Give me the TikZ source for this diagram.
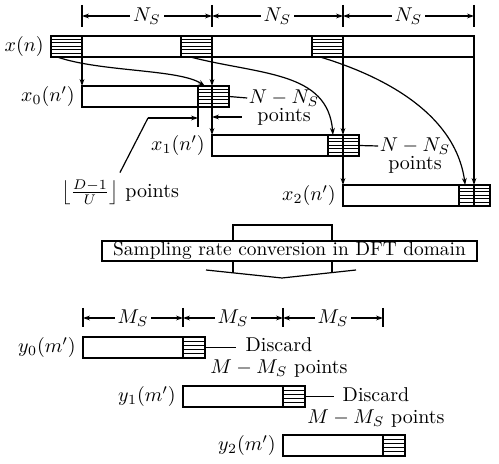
\documentclass[tikz,border=0pt]{standalone}
\usepackage{amsmath,amssymb}
\usetikzlibrary{positioning,arrows.meta,calc}

\begin{document}
\begin{tikzpicture}[
  x=0.5pt, y=-0.5pt, line width=0.6pt,
  seg/.style={draw, line width=0.9pt, minimum height=10.5pt, inner sep=0pt, outer sep=0pt},
  hatch/.style={draw, line width=0.7pt, minimum height=10.5pt, minimum width=15.5pt, inner sep=0pt, outer sep=0pt,
    path picture={\foreach \k [evaluate=\k as \f using \k/(#1+1)] in {1,...,#1}
      \draw[line width=0.5pt] ($(path picture bounding box.north west)!\f!(path picture bounding box.south west)$)
        -- ($(path picture bounding box.north east)!\f!(path picture bounding box.south east)$);}},
  hatch/.default=5,
  arr/.style={-{Stealth[length=3.5pt,width=2.4pt]}},
  dim/.style={{Stealth[length=3.5pt,width=2.4pt]}-{Stealth[length=3.5pt,width=2.4pt]}},
  lab/.style={fill=white, inner sep=1.5pt},
  note/.style={inner sep=0.5pt}
]
\useasboundingbox (0,0) rectangle (499,464);

\node[seg, minimum width=211.5pt, anchor=north west] (xn) at (51,36) {};
\node[hatch, anchor=north west] (hA) at (xn.north west) {};
\node[hatch, anchor=north east] (hB) at (212,36) {};
\node[hatch, anchor=north east] (hC) at (343,36) {};
\node[left=0pt of xn] (lxn) {$x(n)$};

\foreach \n in {hA,hB,hC,xn} \draw (\n.east |- 0,5) -- (\n.east |- 0,27);
\foreach \a/\b in {hA/hB,hB/hC,hC/xn} \draw[dim] (\a.east |- 0,16) -- node[lab]{$N_S$} (\b.east |- 0,16);

\node[seg, minimum width=73.5pt, anchor=north west] (x0) at (hA.east |- 0,86) {};
\node[hatch, anchor=north east] (h0) at (x0.north east) {};
\node[seg, minimum width=73.5pt, anchor=north west] (x1) at (hB.east |- 0,135) {};
\node[hatch, anchor=north east] (h1) at (x1.north east) {};
\node[seg, minimum width=73.5pt, anchor=north west] (x2) at (hC.east |- 0,185) {};
\node[hatch, anchor=north east] (h2) at (x2.north east) {};
\node[left=0pt of x0] (lx0) {$x_0(n')$};
\node[left=0pt of x1] (lx1) {$x_1(n')$};
\node[left=0pt of x2] (lx2) {$x_2(n')$};

\draw[arr] (hA.south east) -- (x0.north west);
\draw[arr] (hB.south east) -- (hB.east |- x0.north);
\draw[arr] (hB.east |- x0.north) -- (x1.north west);
\draw[arr] (hC.south east) -- (hC.east |- x1.north);
\draw[arr] (hC.east |- x1.north) -- (x2.north west);
\draw[arr] (xn.south east) -- (xn.east |- x2.north);
\draw (xn.east |- x2.north) -- (xn.east |- x2.south);

\draw[arr] ($(hA.south west)!0.2!(hA.south east)$) .. controls +(43,15) and +(-25,-17) .. ($(h0.north west)!0.22!(h0.north east)$);
\draw[arr] ($(hB.south west)!0.3!(hB.south east)$) .. controls +(70,18) and +(-5,-64) .. ($(h1.north west)!0.16!(h1.north east)$);
\draw[arr] ($(hC.south west)!0.26!(hC.south east)$) .. controls +(60,18) and +(-10,-73) .. ($(h2.north west)!0.2!(h2.north east)$);

\node[note] (n0) at (284,98) {$N-N_S$};
\node[note] (p0) at (284,117) {points};
\draw (h0.east) -- (n0.west);
\draw[arr] ([xshift=-7pt]p0.west) -- (p0.west -| hB.east);
\node[note] (n1) at (415,146) {$N-N_S$};
\node[note] (p1) at (415,165) {points};
\draw (h1.east) -- (n1.west);

\coordinate (kink) at (148,118);
\node (dlbl) at (120,192) {$\left\lfloor\frac{D-1}{U}\right\rfloor$ points};
\draw (h0.south west) -- (h0.west |- 0,127);
\draw (dlbl.north) -- (kink);
\draw[arr] (kink) -- (kink -| h0.west);

\node[draw, line width=0.8pt, minimum width=187.5pt, minimum height=10pt, inner sep=0.5pt, font=\fontsize{9.7}{11}\selectfont] (conv) at (289.5,251) {Sampling rate conversion in DFT domain};
\draw (conv.north -| 233,0) |- (332,225) -- (conv.north -| 332,0);
\draw (conv.south -| 233,0) -- (233,272.8) (conv.south -| 332,0) -- (332,272.6);
\draw (206,270) -- (282,278) -- (356,270);

\node[seg, minimum width=61pt, anchor=north west] (y0) at (83,337) {};
\node[hatch=4, minimum width=11pt, anchor=north east] (g0) at (y0.north east) {};
\node[seg, minimum width=61pt, anchor=north west] (y1) at (g0.west |- 0,386) {};
\node[hatch=4, minimum width=11pt, anchor=north east] (g1) at (y1.north east) {};
\node[seg, minimum width=61pt, anchor=north west] (y2) at (g1.west |- 0,435) {};
\node[hatch=4, minimum width=11pt, anchor=north east] (g2) at (y2.north east) {};
\node[left=0pt of y0] (ly0) {$y_0(m')$};
\node[left=0pt of y1] (ly1) {$y_1(m')$};
\node[left=0pt of y2] (ly2) {$y_2(m')$};

\foreach \n in {y0,g0,g1,g2} \draw (\n.west |- 0,308) -- (\n.west |- 0,327);
\foreach \a/\b in {y0/g0,g0/g1,g1/g2} \draw[dim] (\a.west |- 0,318) -- node[lab]{$M_S$} (\b.west |- 0,318);

\node[note, align=center] (dc0) at (279,358) {Discard\\[-1pt]$M-M_S$ points};
\coordinate (e0) at (g0.east -| 236,0);
\draw (g0.east) -- (e0);
\node[note, align=center] (dc1) at (376,408) {Discard\\[-1pt]$M-M_S$ points};
\coordinate (e1) at (g1.east -| 334,0);
\draw (g1.east) -- (e1);
\end{tikzpicture}
\end{document}
